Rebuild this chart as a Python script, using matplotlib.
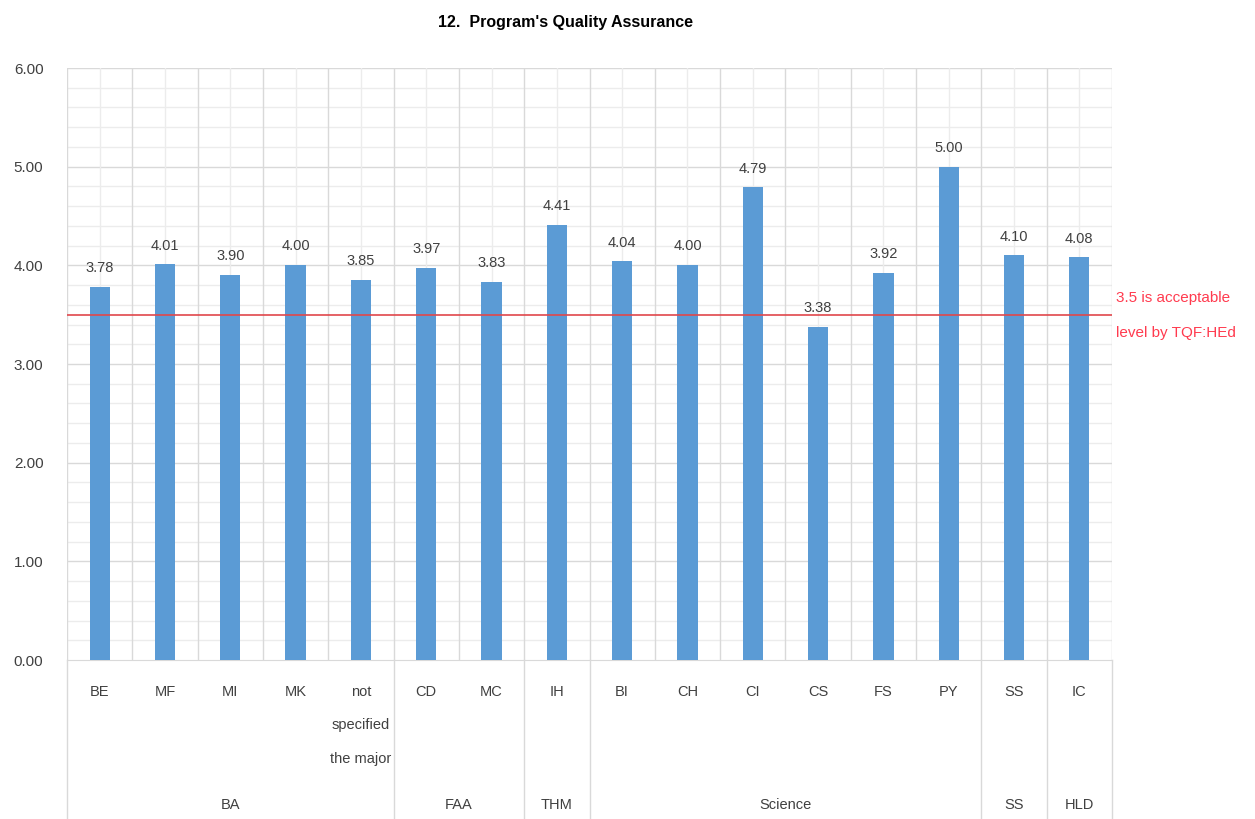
import matplotlib.pyplot as plt
import numpy as np

plt.rcParams['font.family'] = ['Liberation Sans', 'DejaVu Sans']

categories = ['BE', 'MF', 'MI', 'MK', 'not\n\nspecified\n\nthe major', 'CD', 'MC', 'IH',
              'BI', 'CH', 'CI', 'CS', 'FS', 'PY', 'SS', 'IC']
values = [3.78, 4.01, 3.90, 4.00, 3.85, 3.97, 3.83, 4.41,
          4.04, 4.00, 4.79, 3.38, 3.92, 5.00, 4.10, 4.08]
groups = ['BA', 'FAA', 'THM', 'Science', 'SS', 'HLD']
group_sizes = [5, 2, 1, 6, 1, 1]
threshold = 3.5

fig = plt.figure(figsize=(12.55, 8.19), dpi=100)
ax = fig.add_axes([67/1255, 1-660/819, (1112-67)/1255, (660-68)/819])

n = len(categories)
x = np.arange(n)
ax.bar(x, values, width=0.31, color='#5b9bd5', zorder=3)
for xi, v in zip(x, values):
    ax.text(xi, v + 0.12, f'{v:.2f}', ha='center', va='bottom', fontsize=10.5, color='#404040')

ax.set_xlim(-0.5, n - 0.5)
ax.set_ylim(0, 6)
ax.set_yticks(np.arange(0, 7, 1))
ax.set_yticklabels([f'{t:.2f}' for t in range(7)], fontsize=11, color='#404040')
ax.set_yticks(np.arange(0, 6.01, 0.2), minor=True)
ax.tick_params(axis='y', which='both', length=0, pad=17)
ax.tick_params(axis='x', which='both', length=0)

# grid
for yv in np.arange(0.2, 6.01, 0.2):
    major = abs(yv - round(yv)) < 1e-6
    ax.axhline(yv, color='#d9d9d9' if major else '#ececec', lw=1.0, zorder=1)
for xv in np.arange(-0.5, n, 1.0):
    ax.axvline(xv, color='#d9d9d9', lw=1.0, zorder=1)
for xv in x:
    ax.axvline(xv, color='#ececec', lw=1.0, zorder=1)

ax.set_xticks([])
for s in ['top', 'right', 'left']:
    ax.spines[s].set_visible(False)
ax.spines['bottom'].set_color('#d9d9d9')

# category labels
for xi, c in zip(x, categories):
    ax.text(xi, -0.25, c, ha='center', va='top', fontsize=10.5, color='#404040',
            linespacing=1.25, transform=ax.transData, clip_on=False)

# group labels and separators
trans = ax.get_xaxis_transform()
start = -0.5
bounds = [start]
for g, sz in zip(groups, group_sizes):
    mid = start + sz / 2
    ax.text(mid, -0.245, g, ha='center', va='center', fontsize=10.5, color='#404040',
            transform=trans, clip_on=False)
    start += sz
    bounds.append(start)
for b in bounds:
    ax.plot([b, b], [0, -0.27], transform=trans, color='#d9d9d9', lw=1.0, clip_on=False)

ax.axhline(threshold, color='#e0474c', lw=1.2, zorder=4)
fig.text(1116/1255, 1-298/819, '3.5 is acceptable', color='#ff3b4f', fontsize=11, va='center')
fig.text(1116/1255, 1-333/819, 'level by TQF:HEd', color='#ff3b4f', fontsize=11, va='center')

fig.text(566/1255, 1-22/819, "12.  Program's Quality Assurance", ha='center', va='center',
         fontsize=11.5, fontweight='bold', color='#000000')

fig.savefig('out.png', dpi=100, facecolor='white')
